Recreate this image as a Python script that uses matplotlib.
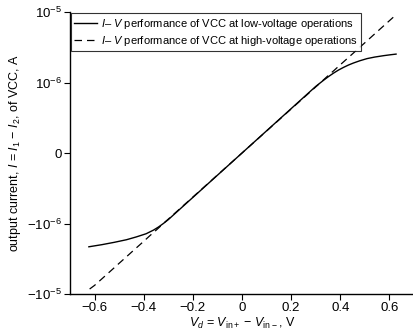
import numpy as np
import matplotlib
matplotlib.use('Agg')
import matplotlib.pyplot as plt
from matplotlib.ticker import FixedLocator, FixedFormatter

plt.rcParams['font.family'] = ['Liberation Sans', 'DejaVu Sans']
plt.rcParams['mathtext.fontset'] = 'custom'
plt.rcParams['mathtext.rm'] = 'Liberation Sans'
plt.rcParams['mathtext.it'] = 'Liberation Sans:italic'
plt.rcParams['mathtext.sf'] = 'Liberation Sans'

# low-voltage operation (solid), current in uA
v_low = [-0.623, -0.57, -0.52, -0.47, -0.43, -0.39, -0.36, -0.34, -0.32, -0.30,
         0.0, 0.30, 0.32, 0.332, 0.352, 0.373, 0.393, 0.413, 0.434,
         0.454, 0.48, 0.509, 0.54, 0.577, 0.605, 0.627]
i_low = [-2.138, -1.995, -1.849, -1.698, -1.549, -1.396, -1.239, -1.122, -1.0, -0.945,
         0.0, 0.945, 1.0, 1.079, 1.216, 1.365, 1.507, 1.641, 1.778,
         1.897, 2.042, 2.188, 2.301, 2.410, 2.483, 2.535]

# high-voltage operation (dashed), current in uA
v_high = [-0.62, -0.6, -0.575, -0.55, -0.525, -0.5, -0.475, -0.45, -0.425, -0.4,
          -0.375, -0.35, -0.325, -0.32, 0.0, 0.32, 0.325, 0.35, 0.375, 0.4,
          0.425, 0.45, 0.475, 0.5, 0.525, 0.55, 0.575, 0.6, 0.625]
i_high = [-8.5, -7.55, -6.31, -5.27, -4.40, -3.67, -3.07, -2.56, -2.14, -1.79,
          -1.49, -1.25, -1.04, -1.0, 0.0, 1.0, 1.04, 1.25, 1.49, 1.79,
          2.14, 2.56, 3.07, 3.67, 4.40, 5.27, 6.31, 7.55, 9.04]

y_ticks = [-1e-5, -1e-6, 0, 1e-6, 1e-5]
y_labels = [r'$-10^{-5}$', r'$-10^{-6}$', '0', r'$10^{-6}$', r'$10^{-5}$']
x_ticks = [-0.6, -0.4, -0.2, 0, 0.2, 0.4, 0.6]
x_labels = ['\u22120.6', '\u22120.4', '\u22120.2', '0', '0.2', '0.4', '0.6']

fig = plt.figure(figsize=(4.14, 3.36), dpi=100)
ax = fig.add_axes([0.169, 0.125, 0.831, 0.839])

ax.plot(v_low, np.array(i_low) * 1e-6, '-k', lw=1.0,
        label=r'$I$– $V$ performance of VCC at low-voltage operations')
ax.plot(v_high, np.array(i_high) * 1e-6, color='k', lw=0.9, dashes=(6, 4),
        label=r'$I$– $V$ performance of VCC at high-voltage operations')

ax.set_yscale('symlog', linthresh=1e-6, linscale=0.9)
ax.set_ylim(-1e-5, 1e-5)
ax.set_xlim(-0.7, 0.7)
ax.yaxis.set_major_locator(FixedLocator(y_ticks))
ax.yaxis.set_major_formatter(FixedFormatter(y_labels))
ax.yaxis.set_minor_locator(FixedLocator([]))
ax.set_xticks(x_ticks)
ax.set_xticklabels(x_labels)

for s in ['top', 'right']:
    ax.spines[s].set_visible(False)
for s in ['left', 'bottom']:
    ax.spines[s].set_linewidth(1.0)
ax.tick_params(direction='out', length=4, width=0.8, labelsize=9.5, pad=2)

ax.set_xlabel(r'$V_d$ = $V_{\mathrm{in+}}$ − $V_{\mathrm{in-}}$, V', fontsize=9, labelpad=1)
ax.set_ylabel(r'output current, $I$ = $I_1$ − $I_2$, of VCC, A', fontsize=9, labelpad=3)

leg = ax.legend(loc='upper left', fontsize=8, frameon=True, fancybox=False,
                edgecolor='k', borderaxespad=0.1, handlelength=2.0,
                borderpad=0.3, labelspacing=0.3, handletextpad=0.4)
leg.get_frame().set_linewidth(0.8)

fig.savefig('out.png', dpi=100)
